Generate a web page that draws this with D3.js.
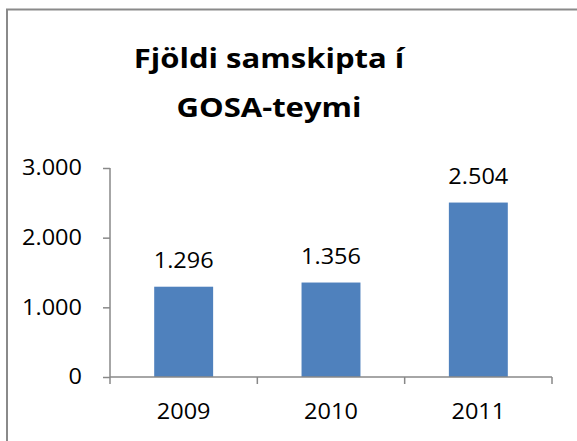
<!DOCTYPE html>
<html><head><meta charset="utf-8">
<script src="https://cdn.jsdelivr.net/npm/d3@7"></script>
<style>html,body{margin:0;padding:0;background:#fff;}svg{display:block;}</style>
</head><body>
<svg id="c" width="577" height="441"></svg>
<script>
const titleLines = ["Fjöldi samskipta í", "GOSA-teymi"];
const years = ["2009", "2010", "2011"];
const values = [1296, 1356, 2504];
const yTicks = [0, 1000, 2000, 3000];

const svg = d3.select("#c");
const font = "'Open Sans', sans-serif";
const sxT = 1.15, sxL = 1.12;
const loc = d3.formatLocale({decimal: ",", thousands: ".", grouping: [3], currency: ["", ""]});
const fmt = loc.format(",d");

// frame (cropped: only top and left edges visible)
svg.append("rect").attr("x", 7).attr("y", 9.5).attr("width", 600).attr("height", 460)
  .attr("fill", "none").attr("stroke", "#8a8a8a").attr("stroke-width", 2);

const x = d3.scaleBand().domain(years).range([110, 552]).paddingInner(0.6).paddingOuter(0.3);
const y = d3.scaleLinear().domain([0, 3000]).range([377, 168]);

// title
svg.append("g").selectAll("text").data(titleLines).join("text")
  .attr("transform", (d, i) => `translate(269,${68 + i * 49}) scale(${sxT},1)`)
  .attr("text-anchor", "middle").attr("font-family", font).attr("font-weight", "bold")
  .attr("font-size", 27).attr("fill", "#000").text(d => d);

// y axis
const ya = svg.append("g").attr("transform", "translate(110,0)")
  .call(d3.axisLeft(y).tickValues(yTicks).tickSize(7).tickPadding(21).tickFormat(fmt));
ya.select(".domain").attr("stroke", "#888").attr("stroke-width", 1.5).attr("d", `M0,${y(3000)}V${y(0)}`);
ya.selectAll(".tick line").attr("stroke", "#888").attr("stroke-width", 1.5);
ya.selectAll(".tick text").attr("x", 0).attr("transform", `translate(-28,0) scale(${sxL},1)`)
  .attr("font-family", font).attr("font-size", 21).attr("fill", "#000");

// bars
svg.append("g").selectAll("rect").data(values).join("rect")
  .attr("x", (d, i) => x(years[i])).attr("width", x.bandwidth())
  .attr("y", d => y(d)).attr("height", d => y(0) - y(d))
  .attr("fill", "#4F81BD");

// x axis
const [r0, r1] = x.range();
svg.append("line").attr("x1", r0).attr("x2", r1).attr("y1", y(0)).attr("y2", y(0))
  .attr("stroke", "#888").attr("stroke-width", 1.5);
const bounds = d3.range(years.length + 1).map(i => r0 + i * x.step());
svg.append("g").selectAll("line").data(bounds).join("line")
  .attr("x1", d => d).attr("x2", d => d).attr("y1", y(0)).attr("y2", y(0) + 7)
  .attr("stroke", "#888").attr("stroke-width", 1.5);
svg.append("g").selectAll("text").data(years).join("text")
  .attr("transform", d => `translate(${x(d) + x.bandwidth() / 2},419) scale(${sxL},1)`)
  .attr("text-anchor", "middle").attr("font-family", font).attr("font-size", 21).attr("fill", "#000")
  .text(d => d);

// value labels
svg.append("g").selectAll("text").data(values).join("text")
  .attr("transform", (d, i) => `translate(${x(years[i]) + x.bandwidth() / 2},${y(d) - 19}) scale(${sxL},1)`)
  .attr("text-anchor", "middle").attr("font-family", font).attr("font-size", 21).attr("fill", "#000")
  .text(d => fmt(d));
</script>
</body></html>
